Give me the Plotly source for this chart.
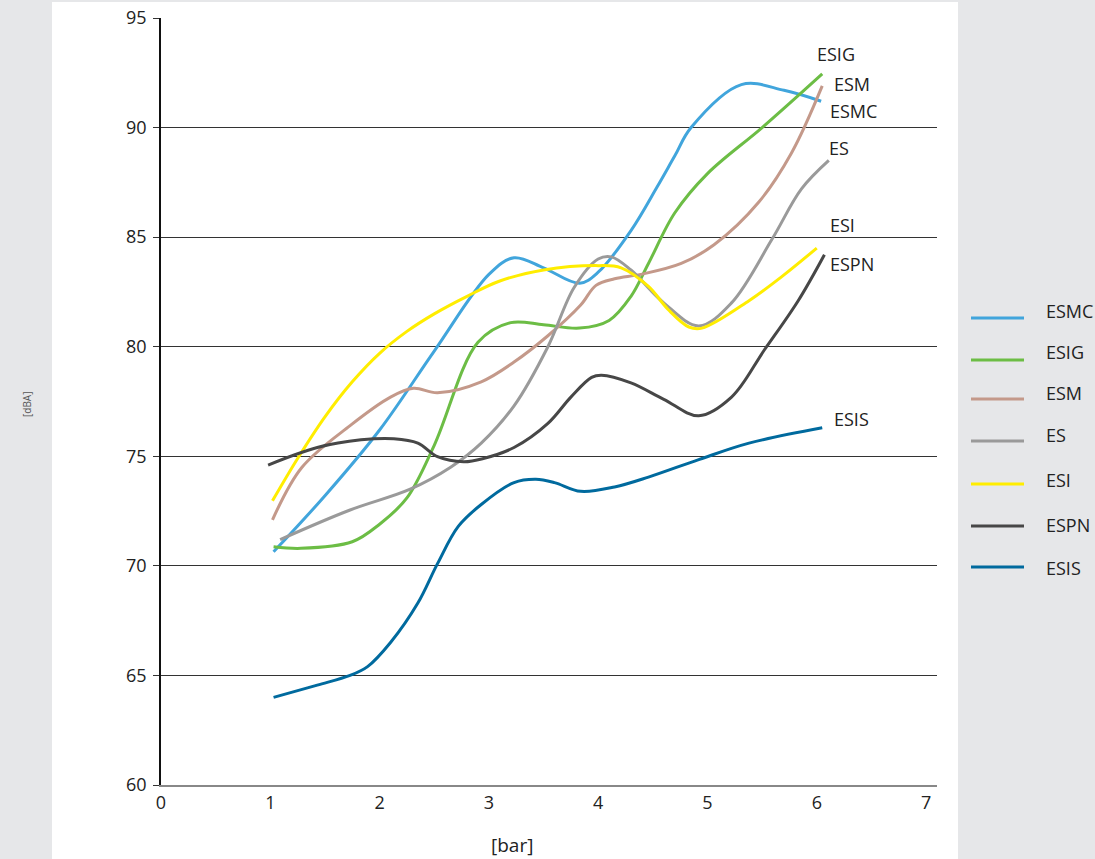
import plotly.graph_objects as go

# pressure [bar] / sound level [dBA]
esmc_x = [1.03, 1.5, 2.0, 2.5, 3.0, 3.23, 3.5, 3.83, 4.0, 4.3, 4.54, 4.7, 4.85, 5.31, 5.7, 6.04]
esmc_y = [70.64, 73.2, 76.2, 79.8, 83.3, 84.06, 83.6, 82.9, 83.4, 85.3, 87.3, 88.7, 90.0, 91.96, 91.7, 91.2]

esig_x = [1.03, 1.28, 1.75, 2.0, 2.25, 2.5, 2.9, 3.2, 3.5, 3.83, 4.1, 4.3, 4.46, 4.7, 5.0, 5.5, 6.05]
esig_y = [70.87, 70.8, 71.1, 71.9, 73.1, 75.5, 80.2, 81.1, 81.0, 80.85, 81.2, 82.3, 83.8, 86.1, 87.9, 90.0, 92.45]

esm_x = [1.02, 1.29, 1.73, 2.1, 2.31, 2.53, 2.93, 3.23, 3.54, 3.84, 3.98, 4.15, 4.39, 4.76, 5.06, 5.47, 5.77, 6.05]
esm_y = [72.1, 74.5, 76.4, 77.7, 78.1, 77.9, 78.4, 79.3, 80.5, 81.9, 82.8, 83.1, 83.3, 83.8, 84.65, 86.6, 88.85, 91.9]

es_x = [1.09, 1.73, 2.28, 2.65, 2.93, 3.23, 3.54, 3.78, 4.0, 4.12, 4.3, 4.6, 4.92, 5.22, 5.59, 5.86, 6.11]
es_y = [71.2, 72.55, 73.5, 74.5, 75.6, 77.3, 80.0, 82.7, 84.0, 84.1, 83.5, 82.0, 80.95, 82.0, 84.9, 87.2, 88.5]

esi_x = [1.02, 1.25, 1.5, 1.75, 2.0, 2.25, 2.5, 2.8, 3.1, 3.5, 4.0, 4.21, 4.46, 4.64, 4.83, 4.95, 5.38, 5.68, 6.0]
esi_y = [72.97, 74.9, 76.8, 78.4, 79.7, 80.7, 81.5, 82.3, 83.0, 83.5, 83.7, 83.6, 82.75, 81.7, 80.9, 80.85, 82.1, 83.2, 84.5]

espn_x = [0.98, 1.43, 1.83, 2.13, 2.35, 2.53, 2.77, 2.95, 3.23, 3.54, 3.75, 3.94, 4.03, 4.3, 4.6, 4.92, 5.22, 5.52, 5.83, 6.07]
espn_y = [74.6, 75.4, 75.75, 75.8, 75.6, 74.98, 74.75, 74.9, 75.4, 76.5, 77.7, 78.6, 78.7, 78.35, 77.6, 76.85, 77.7, 79.85, 82.1, 84.2]

esis_x = [1.03, 1.43, 1.73, 1.89, 2.1, 2.35, 2.53, 2.72, 2.93, 3.23, 3.43, 3.6, 3.84, 4.15, 4.46, 4.92, 5.38, 6.05]
esis_y = [64.0, 64.56, 65.0, 65.4, 66.5, 68.3, 70.1, 71.8, 72.8, 73.8, 73.95, 73.8, 73.4, 73.6, 74.05, 74.85, 75.6, 76.3]

names = ["ESMC", "ESIG", "ESM", "ES", "ESI", "ESPN", "ESIS"]
colors = ["#41a5dc", "#6cbd45", "#c4998a", "#9a9a9a", "#ffed00", "#474747", "#006a9e"]
xs = [esmc_x, esig_x, esm_x, es_x, esi_x, espn_x, esis_x]
ys = [esmc_y, esig_y, esm_y, es_y, esi_y, espn_y, esis_y]

# end-of-line labels (data coords, left edge)
label_names = ["ESIG", "ESM", "ESMC", "ES", "ESI", "ESPN", "ESIS"]
label_x = [5.98, 6.14, 6.10, 6.09, 6.10, 6.10, 6.14]
label_y = [93.36, 91.99, 90.76, 89.07, 85.55, 83.77, 76.7]

W, H = 1095, 859
ML, MR, MT, MB = 161, 158, 18, 74
PW, PH = W - ML - MR, H - MT - MB


def px_x(p):
    return (p - ML) / PW


def px_y(p):
    return (H - MB - p) / PH


FONT = "Open Sans, sans-serif"

fig = go.Figure()
for name, col, x, y in zip(names, colors, xs, ys):
    fig.add_trace(go.Scatter(x=x, y=y, name=name, mode="lines", showlegend=False,
                             line=dict(color=col, width=3, shape="spline", smoothing=1.0)))

for t, x, y in zip(label_names, label_x, label_y):
    fig.add_annotation(x=x, y=y, text=t, showarrow=False, xanchor="left",
                       yanchor="middle", font=dict(size=18, color="#222"))

# legend in the grey side panel
leg_line_y = [318, 360, 399, 441, 484, 526, 567]
leg_text_y = [311, 352, 393, 435, 480, 525, 568]
for name, col, ly, ty in zip(names, colors, leg_line_y, leg_text_y):
    fig.add_shape(type="line", xref="paper", yref="paper", x0=px_x(971), x1=px_x(1024),
                  y0=px_y(ly), y1=px_y(ly), line=dict(color=col, width=3))
    fig.add_annotation(xref="paper", yref="paper", x=px_x(1044), y=px_y(ty), text=name,
                       showarrow=False, xanchor="left", yanchor="middle",
                       font=dict(size=18, color="#222"))

fig.add_annotation(xref="paper", yref="paper", x=px_x(512), y=px_y(845),
                   text="[bar]", showarrow=False, yanchor="middle",
                   font=dict(size=19, color="#222"))
fig.add_annotation(xref="paper", yref="paper", x=px_x(18), y=px_y(405),
                   text="[dBA]", showarrow=False, textangle=-90,
                   font=dict(size=10, color="#555"))

# white panel behind the chart
fig.add_shape(type="rect", xref="paper", yref="paper", layer="below",
              x0=px_x(52), x1=px_x(958), y0=px_y(870), y1=px_y(2),
              fillcolor="white", line_width=0)

fig.update_layout(
    width=W, height=H,
    margin=dict(l=ML, r=MR, t=MT, b=MB, autoexpand=False),
    paper_bgcolor="#e6e7e9", plot_bgcolor="white",
    font=dict(family=FONT, size=18, color="#222"),
    showlegend=False,
)
fig.update_xaxes(range=[0, 7.1], tickvals=[0, 1, 2, 3, 4, 5, 6, 7], showgrid=False,
                 zeroline=False, showline=True, linecolor="#888", linewidth=2,
                 ticks="", ticklabelstandoff=0, automargin=False)
fig.update_yaxes(range=[60, 95], tickvals=[60, 65, 70, 75, 80, 85, 90, 95],
                 showgrid=True, gridcolor="#333", gridwidth=1, zeroline=False,
                 showline=True, linecolor="#111", linewidth=1.5,
                 ticks="outside", ticklen=6, tickcolor="#333", ticklabelstandoff=3,
                 automargin=False)

fig.write_html("out.html", config={"displayModeBar": False},
               post_script="document.documentElement.style.overflow='hidden';"
                           "document.body.style.margin='0';"
                           "document.body.style.overflow='hidden';")
